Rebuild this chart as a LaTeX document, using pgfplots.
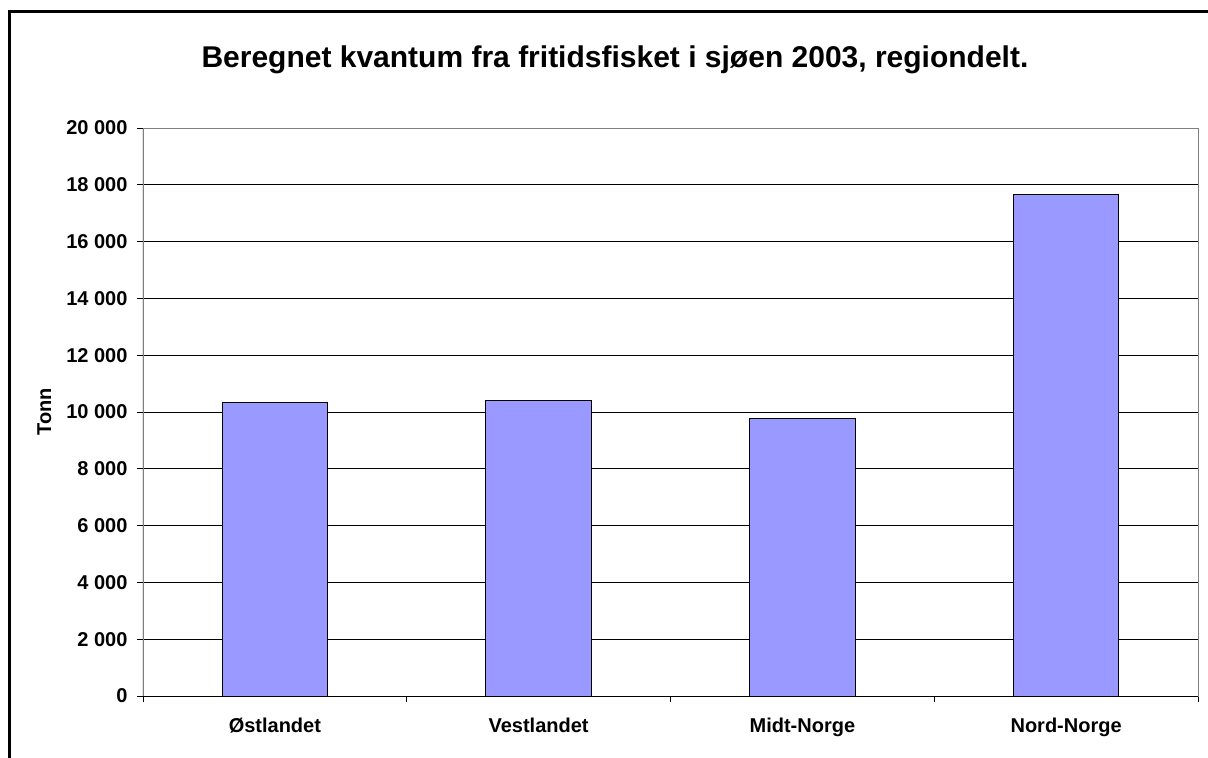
\documentclass[border=0pt]{standalone}
\usepackage{pgfplots}
\pgfplotsset{compat=1.18}
\usepackage{fontspec}
\setmainfont{Liberation Sans}
\definecolor{barblue}{HTML}{9999FF}
\begin{document}
\begin{tikzpicture}[x=1pt,y=1pt]
\useasboundingbox (0,0) rectangle (1208,758);
\draw[line width=3pt] (9.5,0) -- (9.5,746.5) -- (1208,746.5);
\node[font=\bfseries\fontsize{30}{36}\selectfont] at (615,698) {Beregnet kvantum fra fritidsfisket i sjøen 2003, regiondelt.};
\begin{axis}[
  at={(143pt,62pt)}, anchor=south west,
  scale only axis, width=1055pt, height=568pt,
  ybar, bar width=0.4,
  xmin=-0.5, xmax=3.5, ymin=0, ymax=20000,
  scaled y ticks=false,
  xtick={0,1,2,3},
  xticklabels={Østlandet,Vestlandet,Midt-Norge,Nord-Norge},
  minor xtick={-0.5,0.5,1.5,2.5,3.5},
  major x tick style={draw=none},
  ytick={0,2000,4000,6000,8000,10000,12000,14000,16000,18000,20000},
  yticklabels={0,2 000,4 000,6 000,8 000,10 000,12 000,14 000,16 000,18 000,20 000},
  tick align=outside, tick pos=left,
  major tick length=6pt, minor tick length=6pt,
  tick style={black, line width=0.8pt},
  ymajorgrids, grid style={black, line width=0.8pt},
  axis line style={draw=gray, line width=0.8pt},
  ticklabel style={font=\bfseries\fontsize{20}{24}\selectfont},
  xticklabel style={yshift=-12pt},
  yticklabel style={xshift=-6pt},
  ylabel={Tonn},
  ylabel style={font=\bfseries\fontsize{20}{24}\selectfont, yshift=8pt},
]
\addplot[fill=barblue, draw=black, line width=1pt] coordinates {(0,10342) (1,10412) (2,9778) (3,17665)};
\draw[black, line width=1pt] (rel axis cs:0,1) -- (rel axis cs:0,0) -- (rel axis cs:1,0);
\end{axis}
\end{tikzpicture}
\end{document}
